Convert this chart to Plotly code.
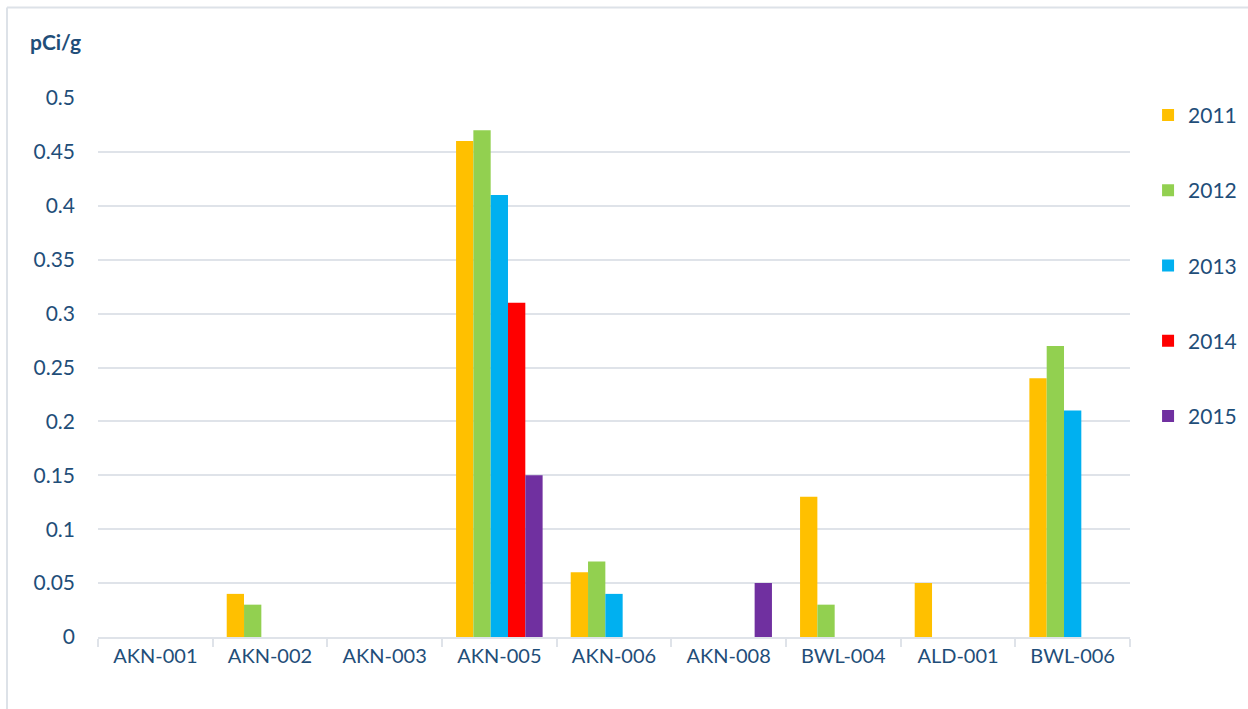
import plotly.graph_objects as go

categories = ["AKN-001", "AKN-002", "AKN-003", "AKN-005", "AKN-006",
              "AKN-008", "BWL-004", "ALD-001", "BWL-006"]
years = ["2011", "2012", "2013", "2014", "2015"]
v2011 = [None, 0.04, None, 0.46, 0.06, None, 0.13, 0.05, 0.24]
v2012 = [None, 0.03, None, 0.47, 0.07, None, 0.03, None, 0.27]
v2013 = [None, None, None, 0.41, 0.04, None, None, None, 0.21]
v2014 = [None, None, None, 0.31, None, None, None, None, None]
v2015 = [None, None, None, 0.15, None, 0.05, None, None, None]
series = [v2011, v2012, v2013, v2014, v2015]
colors = ["#FFC000", "#92D050", "#00B0F0", "#FF0000", "#7030A0"]
ytick_vals = [0, 0.05, 0.1, 0.15, 0.2, 0.25, 0.3, 0.35, 0.4, 0.45, 0.5]
ytick_text = ["0", "0.05", "0.1", "0.15", "0.2", "0.25", "0.3", "0.35", "0.4", "0.45", "0.5"]

TXT = "#1F4E79"
GRID = "#DFE3E9"
FONT = "Lato, 'Open Sans', sans-serif"

fig = go.Figure()
for name, vals, col in zip(years, series, colors):
    fig.add_trace(go.Bar(x=categories, y=vals, name=name, marker_color=col,
                         marker_line_width=0, legendgroup=name))

fig.update_layout(
    width=1248, height=709, autosize=False,
    margin=dict(l=98, r=118, t=98, b=72, autoexpand=False),
    paper_bgcolor="white", plot_bgcolor="white",
    barmode="group", bargap=0.245, bargroupgap=0,
    font=dict(family=FONT, size=20, color=TXT),
    legend=dict(x=1.0175, xanchor="left", y=1.006, yanchor="top",
                traceorder="grouped", tracegroupgap=45,
                font=dict(size=21, color=TXT), itemwidth=30),
    showlegend=True,
)
fig.update_xaxes(showgrid=False, showline=True, linecolor=GRID, linewidth=2,
                 ticks="outside", tickson="boundaries", ticklen=8, tickcolor=GRID,
                 tickwidth=2, tickfont=dict(size=20, color=TXT))
fig.update_yaxes(range=[0, 0.5], tickvals=ytick_vals, ticktext=ytick_text,
                 showgrid=True, gridcolor=GRID, gridwidth=2, zeroline=False,
                 showline=False, ticks="", ticklabelstandoff=22,
                 tickfont=dict(size=21, color=TXT))

fig.add_annotation(text="<b>pCi/g</b>", xref="paper", yref="paper",
                   x=-0.068, y=1.104, xanchor="left", yanchor="middle",
                   showarrow=False, font=dict(size=21, color=TXT, family=FONT))

# chart border (top and left edges visible)
fig.add_shape(type="line", xref="paper", yref="paper", x0=-0.0882, x1=1.2,
              y0=1.168, y1=1.168, line=dict(color="#DDE2E8", width=2))
fig.add_shape(type="line", xref="paper", yref="paper", x0=-0.0882, x1=-0.0882,
              y0=-0.2, y1=1.168, line=dict(color="#DDE2E8", width=2))

fig.write_html("out.html", config={"responsive": False, "displayModeBar": False},
               post_script="document.body.style.margin='0';document.body.style.overflow='hidden';")
